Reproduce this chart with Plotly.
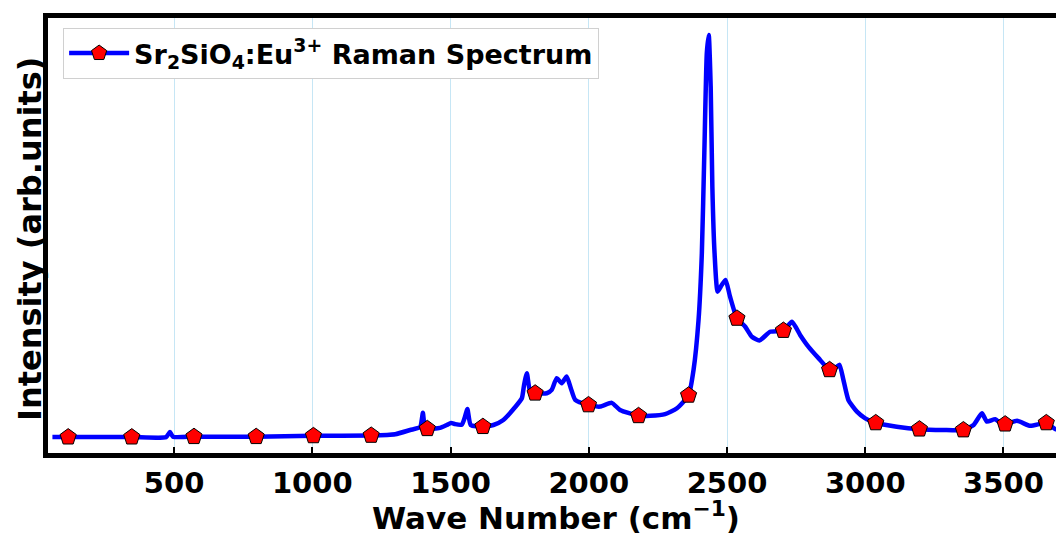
import plotly.graph_objects as go

# Raman spectrum (wave number in cm^-1, normalised intensity, arb. units)
wave_number = [
    60, 117, 347, 471, 485, 496, 572, 797, 1004, 1213,
    1300, 1354, 1390, 1400, 1406, 1416, 1462, 1486, 1502, 1517,
    1541, 1551, 1561, 1573, 1617, 1655, 1691, 1734, 1758, 1766,
    1776, 1788, 1806, 1848, 1866, 1884, 1902, 1920, 1935, 1951,
    1999, 2041, 2083, 2113, 2180, 2222, 2276, 2319, 2361, 2379,
    2397, 2409, 2418, 2427, 2434, 2441, 2447, 2455, 2466, 2481,
    2495, 2511, 2536, 2566, 2590, 2617, 2656, 2704, 2735, 2765,
    2795, 2831, 2871, 2891, 2907, 2921, 2939, 2970, 3000, 3038,
    3114, 3196, 3283, 3355, 3392, 3422, 3440, 3470, 3488, 3506,
    3549, 3597, 3655, 3688, 3720,
]
intensity = [
    0.038, 0.038, 0.038, 0.038, 0.050, 0.039, 0.039, 0.039, 0.041, 0.042,
    0.045, 0.055, 0.062, 0.096, 0.065, 0.058, 0.060, 0.067, 0.072, 0.069,
    0.068, 0.084, 0.105, 0.067, 0.063, 0.067, 0.079, 0.110, 0.131, 0.163,
    0.191, 0.147, 0.143, 0.143, 0.151, 0.179, 0.167, 0.183, 0.155, 0.127,
    0.115, 0.111, 0.120, 0.103, 0.089, 0.089, 0.093, 0.107, 0.138, 0.199,
    0.318, 0.478, 0.718, 0.957, 1.000, 0.876, 0.637, 0.478, 0.386, 0.402,
    0.414, 0.374, 0.322, 0.302, 0.278, 0.269, 0.290, 0.293, 0.314, 0.282,
    0.254, 0.227, 0.199, 0.203, 0.211, 0.175, 0.127, 0.099, 0.083, 0.072,
    0.063, 0.057, 0.055, 0.055, 0.067, 0.095, 0.075, 0.081, 0.072, 0.069,
    0.077, 0.065, 0.072, 0.057, 0.055,
]
# wave numbers at which a marker is drawn
marker_wave_numbers = [
    117, 347, 572, 797, 1004, 1213, 1416, 1617, 1806, 1999,
    2180, 2361, 2536, 2704, 2871, 3038, 3196, 3355, 3506, 3655,
]
x_ticks = [500, 1000, 1500, 2000, 2500, 3000, 3500]
legend_label = "Sr<sub>2</sub>SiO<sub>4</sub>:Eu<sup>3+</sup> Raman Spectrum"
x_title = "Wave Number (cm<sup>−1</sup>)"
y_title = "Intensity (arb.units)"

FONT = "DejaVu Sans"
marker_set = set(marker_wave_numbers)
sizes = [17 if w in marker_set else 0 for w in wave_number]

fig = go.Figure()
fig.add_trace(go.Scatter(
    x=wave_number, y=intensity, mode="lines+markers", showlegend=False,
    line=dict(color="#0000ff", width=4.5, shape="spline", smoothing=0.5),
    marker=dict(symbol="pentagon", color="#ff0000", size=sizes, opacity=1,
                line=dict(color="black", width=1)),
))
fig.add_trace(go.Scatter(
    x=[None], y=[None], mode="lines+markers", name=legend_label,
    line=dict(color="#0000ff", width=4.5),
    marker=dict(symbol="pentagon", color="#ff0000", size=16, opacity=1,
                line=dict(color="black", width=1)),
))

fig.update_layout(
    width=1056, height=534,
    margin=dict(l=48, r=0, t=18, b=81),
    paper_bgcolor="white", plot_bgcolor="white",
    font=dict(family=FONT, color="black"),
    showlegend=True,
    legend=dict(x=0.015, y=0.977, xanchor="left", yanchor="top",
                bgcolor="white", bordercolor="#d0d0d0", borderwidth=1,
                itemwidth=60,
                font=dict(family=FONT, size=27, weight="bold", color="black")),
    annotations=[
        dict(text=x_title, xref="paper", yref="paper", x=0.504, y=-0.1448,
             xanchor="center", yanchor="middle", showarrow=False,
             font=dict(family=FONT, size=31, weight="bold", color="black")),
        dict(text=y_title, xref="paper", yref="paper", x=-0.0179, y=0.492,
             xanchor="center", yanchor="middle", showarrow=False, textangle=-90,
             font=dict(family=FONT, size=32, weight="bold", color="black")),
    ],
)
fig.update_xaxes(
    range=[44, 3690], tickvals=x_ticks, ticktext=[str(t) for t in x_ticks],
    ticks="inside", ticklen=6, tickwidth=2, tickcolor="black",
    tickfont=dict(family=FONT, size=29, weight="bold", color="black"),
    showline=True, linewidth=5, linecolor="black", mirror=True,
    showgrid=True, gridcolor="#c6e6f5", gridwidth=1, zeroline=False,
)
fig.update_yaxes(
    range=[0, 1.0407], showticklabels=False, ticks="",
    showline=True, linewidth=5, linecolor="black", mirror=False,
    showgrid=False, zeroline=False,
)

fig.write_html("out.html")
